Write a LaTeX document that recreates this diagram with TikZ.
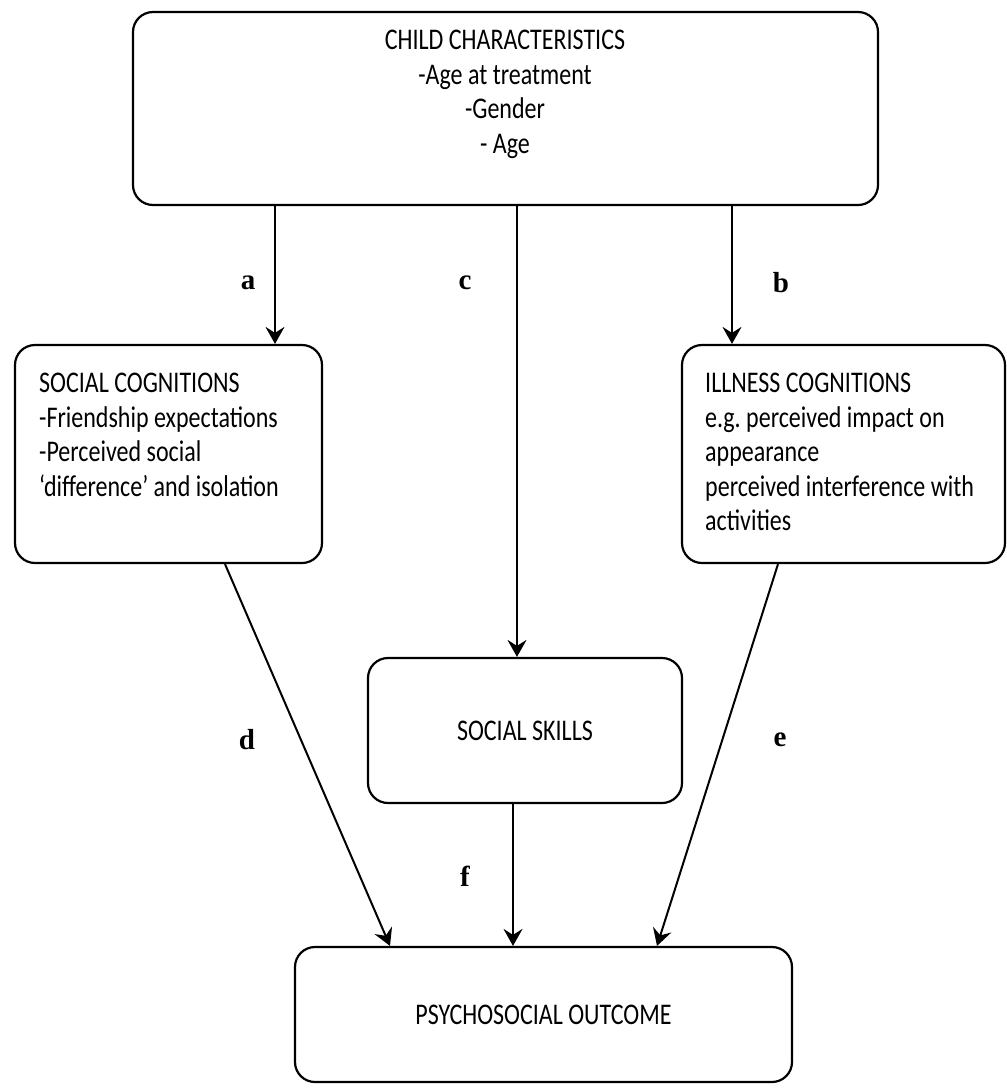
\documentclass[tikz,border=0pt]{standalone}
\usepackage{fontspec}
\usetikzlibrary{arrows.meta}
\newfontfamily\gillfont[FakeStretch=0.8]{Carlito}
\newfontfamily\lblserif{Liberation Serif}

\begin{document}
\begin{tikzpicture}[x=1pt,y=-1pt,
	box/.style={draw, line width=2.2pt, rounded corners=20pt, inner sep=0pt},
	txt/.style={font=\gillfont\fontsize{30}{34.5}\selectfont, inner sep=0pt},
	lbl/.style={font=\lblserif\bfseries\fontsize{29}{30}\selectfont, inner sep=0pt},
	arr/.style={-{Stealth[length=17pt,width=19pt,inset=6pt]}, line width=2pt}]
			\useasboundingbox (0,0) rectangle (1007,1088);
			% boxes
			\node[box, minimum width=745pt, minimum height=193pt] (child) at (505.5,108.5) {};
			\node[box, minimum width=307pt, minimum height=218pt] (socog) at (168.5,454) {};
			\node[box, minimum width=323pt, minimum height=218pt] (illcog) at (843.5,454) {};
			\node[box, minimum width=314pt, minimum height=145pt, txt] (skills) at (525,730.5) {SOCIAL SKILLS};
			\node[box, minimum width=497pt, minimum height=135pt, txt] (psych) at (543.5,1014.5) {PSYCHOSOCIAL OUTCOME};
			% box texts
			\node[txt, anchor=north, align=center] (childtxt) at (505,30) {CHILD CHARACTERISTICS\\-Age at treatment\\-Gender\\- Age};
			\node[txt, anchor=north west, align=left] (socogtxt) at (39,373) {SOCIAL COGNITIONS\\-Friendship expectations\\-Perceived social\\‘difference’ and isolation};
			\node[txt, anchor=north west, align=left] (illcogtxt) at (705,373) {ILLNESS COGNITIONS\\e.g.\ perceived impact on\\appearance\\perceived interference with\\activities};
			% arrows
			\draw[arr] ([xshift=106.5pt]socog.north |- child.south) -- ([xshift=106.5pt]socog.north);
			\draw[arr] ([xshift=-8pt]skills.north |- child.south) -- ([xshift=-8pt]skills.north);
			\draw[arr] ([xshift=-111.5pt]illcog.north |- child.south) -- ([xshift=-111.5pt]illcog.north);
			\draw[arr] ([xshift=56.5pt]socog.south) -- ([xshift=-153.5pt]psych.north);
			\draw[arr] ([xshift=-65.5pt]illcog.south) -- ([xshift=113.5pt]psych.north);
			\draw[arr] ([xshift=-12pt]skills.south) -- ([xshift=-12pt]skills.south |- psych.north);
			% path labels
			\node[lbl] (la) at (248,283) {a};
			\node[lbl] (lc) at (465,283) {c};
			\node[lbl] (lb) at (781,283) {b};
			\node[lbl] (ld) at (247,740) {d};
			\node[lbl] (le) at (780,740) {e};
			\node[lbl] (lf) at (465,876) {f};
		\end{tikzpicture}
\end{document}
